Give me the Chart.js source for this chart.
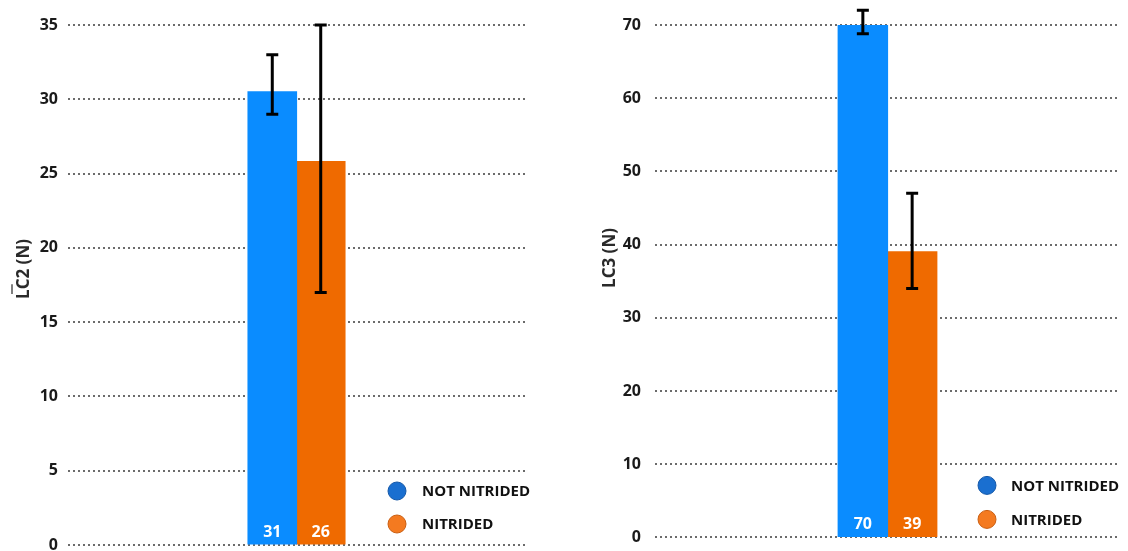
<!DOCTYPE html>
<html>
<head>
<meta charset="utf-8">
<script src="https://cdn.jsdelivr.net/npm/chart.js@4.4.1/dist/chart.umd.min.js"></script>
<style>
  html, body { margin: 0; padding: 0; background: #ffffff; width: 1128px; height: 551px; overflow: hidden; }
  canvas { position: absolute; top: 0; }
  #lc2 { left: 0; }
  #lc3 { left: 587px; }
</style>
</head>
<body>
<canvas id="lc2" width="545" height="565"></canvas>
<canvas id="lc3" width="553" height="561"></canvas>
<script>
// Series: surface treatment groups
const groups = ['NOT NITRIDED', 'NITRIDED'];

// Mean critical load LC2 (N) with lower / upper error limits
const lc2Mean = [30.5, 25.8];
const lc2Low  = [29.0, 17.0];
const lc2High = [33.0, 35.0];

// Critical load LC3 (N) with lower / upper error limits
const lc3Mean = [70.2, 39.0];
const lc3Low  = [68.8, 34.0];
const lc3High = [72.0, 47.0];

// Y axis ranges (tick labels come from min / max / step)
const lc2Axis = [0, 35, 5];
const lc3Axis = [0, 70, 10];

const barColors = ['#0a8cff', '#ef6a00'];
const legendFill = ['#1a6fd0', '#f47a20'];
const legendEdge = ['#1558a8', '#c95e12'];

Chart.defaults.font.family = "'Open Sans', 'Noto Sans', sans-serif";
Chart.defaults.animation = false;

// Error bars, in-bar value labels, legend and rotated axis caption
const decorations = {
  id: 'decorations',
  afterDatasetsDraw(chart, args, opts) {
    const ctx = chart.ctx;
    const y = chart.scales.y;
    const area = chart.chartArea;
    ctx.save();
    // error bars
    chart.data.datasets.forEach((ds, i) => {
      const bar = chart.getDatasetMeta(i).data[0];
      const yTop = y.getPixelForValue(opts.high[i]);
      const yBot = y.getPixelForValue(opts.low[i]);
      ctx.strokeStyle = '#000';
      ctx.lineWidth = 3;
      ctx.lineCap = 'butt';
      ctx.beginPath();
      ctx.moveTo(bar.x, yTop); ctx.lineTo(bar.x, yBot);
      ctx.moveTo(bar.x - 6, yTop); ctx.lineTo(bar.x + 6, yTop);
      ctx.moveTo(bar.x - 6, yBot); ctx.lineTo(bar.x + 6, yBot);
      ctx.stroke();
      // value label at bar base
      ctx.fillStyle = '#ffffff';
      ctx.font = "bold 16px 'Open Sans', sans-serif";
      ctx.textAlign = 'center';
      ctx.textBaseline = 'middle';
      ctx.fillText(String(Math.round(ds.data[0])), bar.x, area.bottom - 13);
    });
    // legend
    const lg = opts.legend;
    chart.data.datasets.forEach((ds, i) => {
      const cx = area.right - lg.dx;
      const cy = area.bottom - lg.dy[i];
      ctx.beginPath();
      ctx.arc(cx, cy, 9, 0, Math.PI * 2);
      ctx.fillStyle = legendFill[i];
      ctx.fill();
      ctx.lineWidth = 1;
      ctx.strokeStyle = legendEdge[i];
      ctx.stroke();
      ctx.fillStyle = '#111';
      ctx.font = "bold 15px 'Open Sans', sans-serif";
      ctx.textAlign = 'left';
      ctx.textBaseline = 'middle';
      ctx.fillText(ds.label, cx + lg.gap, cy + 1);
    });
    // axis caption
    const cap = opts.caption;
    ctx.translate(cap.x, cap.y);
    ctx.rotate(-Math.PI / 2);
    ctx.font = "bold 17px 'Open Sans', sans-serif";
    ctx.fillStyle = '#2a2a2a';
    ctx.textAlign = 'center';
    ctx.textBaseline = 'alphabetic';
    ctx.fillText(cap.text, 0, 0);
    if (cap.overline) {
      const w = ctx.measureText(cap.text).width;
      const wl = ctx.measureText(cap.text.charAt(0)).width;
      ctx.strokeStyle = '#555';
      ctx.lineWidth = 1.5;
      ctx.beginPath();
      ctx.moveTo(-w / 2 + 5, -17);
      ctx.lineTo(-w / 2 + 5 + wl, -17);
      ctx.stroke();
    }
    ctx.restore();
  }
};

function buildChart(id, means, lows, highs, axis, cfg) {
  return new Chart(document.getElementById(id), {
    type: 'bar',
    data: {
      labels: [''],
      datasets: groups.map((g, i) => ({
        label: g,
        data: [means[i]],
        backgroundColor: barColors[i],
        borderWidth: 0,
        inflateAmount: 0.6
      }))
    },
    options: {
      responsive: false,
      maintainAspectRatio: false,
      devicePixelRatio: 1,
      layout: { padding: { left: 0, right: 20, top: 25, bottom: 20 } },
      datasets: { bar: { categoryPercentage: 0.212, barPercentage: 1 } },
      scales: {
        x: { display: false },
        y: {
          min: axis[0], max: axis[1],
          border: { display: false, dash: [2, 3] },
          grid: {
            color: '#6b6b6b',
            lineWidth: 2,
            drawTicks: false
          },
          ticks: {
            stepSize: axis[2],
            padding: cfg.tickPad,
            color: '#1a1a1a',
            font: { size: 16, weight: 'bold' }
          },
          afterFit(scale) { scale.width = 68; }
        }
      },
      plugins: {
        legend: { display: false },
        tooltip: { enabled: false },
        decorations: {
          low: lows, high: highs,
          legend: cfg.legend,
          caption: cfg.caption
        }
      }
    },
    plugins: [decorations]
  });
}

buildChart('lc2', lc2Mean, lc2Low, lc2High, lc2Axis, {
  tickPad: 10,
  legend: { dx: 128, dy: [54, 21], gap: 25 },
  caption: { text: 'LC2 (N)', x: 29, y: 269, overline: true }
});

buildChart('lc3', lc3Mean, lc3Low, lc3High, lc3Axis, {
  tickPad: 14,
  legend: { dx: 133, dy: [52, 18], gap: 24 },
  caption: { text: 'LC3 (N)', x: 28, y: 258, overline: false }
});
</script>
</body>
</html>
